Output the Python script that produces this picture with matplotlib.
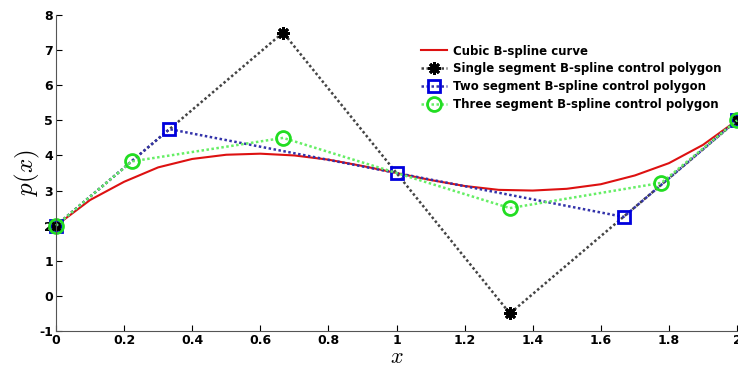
import numpy as np
import matplotlib.pyplot as plt

# red curve
curve_x = [0, 0.1, 0.2, 0.3, 0.4, 0.5, 0.6, 0.7, 0.8, 0.9, 1.0,
           1.1, 1.2, 1.3, 1.4, 1.5, 1.6, 1.7, 1.8, 1.9, 2.0]
curve_y = [2.0, 2.73, 3.25, 3.66, 3.9, 4.02, 4.05, 4.0, 3.88, 3.7, 3.5,
           3.3, 3.13, 3.02, 3.0, 3.05, 3.18, 3.43, 3.78, 4.3, 5.0]

# control polygons
single_x = [0, 0.667, 1.333, 2]
single_y = [2, 7.5, -0.5, 5]
two_x = [0, 0.333, 1, 1.667, 2]
two_y = [2, 4.75, 3.5, 2.25, 5]
three_x = [0, 0.222, 0.667, 1.333, 1.778, 2]
three_y = [2, 3.83, 4.5, 2.5, 3.22, 5]

plt.rcParams['mathtext.fontset'] = 'cm'
plt.rcParams['axes.unicode_minus'] = False

fig = plt.figure(figsize=(7.38, 3.66), dpi=100)
ax = fig.add_axes([56 / 738, 1 - 331 / 366, 681 / 738, 316 / 366])

dots = (0, (1, 1))
ax.plot(curve_x, curve_y, color='#dd1111', lw=1.5, label='Cubic B-spline curve',
        clip_on=False)
ax.plot(single_x, single_y, ls=dots, color='#444444', lw=1.8, marker=(8, 2, 0),
        ms=9, mew=2, mec='black', label='Single segment B-spline control polygon',
        clip_on=False)
ax.plot(two_x, two_y, ls=dots, color='#3333aa', lw=1.8, marker='s', ms=8, mew=2,
        mec='#0000dd', mfc='none', label='Two segment B-spline control polygon',
        clip_on=False)
ax.plot(three_x, three_y, ls=dots, color='#66ee66', lw=1.8, marker='o', ms=10, mew=2,
        mec='#22dd22', mfc='none', label='Three segment B-spline control polygon',
        clip_on=False)

ax.set_xlim(0, 2)
ax.set_ylim(-1, 8)
ax.set_xticks(np.arange(0, 2.01, 0.2))
ax.set_xticklabels(['0', '0.2', '0.4', '0.6', '0.8', '1', '1.2', '1.4', '1.6', '1.8', '2'])
ax.set_yticks(range(-1, 9))
ax.tick_params(direction='in', length=4, labelsize=9, top=False, right=False, pad=2)
for lab in ax.get_xticklabels() + ax.get_yticklabels():
    lab.set_fontweight('bold')
ax.spines['top'].set_visible(False)
ax.spines['right'].set_visible(False)
for s in ['left', 'bottom']:
    ax.spines[s].set_color('#555555')

ax.set_xlabel('$x$', fontsize=16, labelpad=0)
ax.set_ylabel('$p(x)$', fontsize=18, labelpad=-2)

leg = ax.legend(loc='upper left', bbox_to_anchor=(0.52, 0.94), frameon=False,
                prop={'weight': 'bold', 'size': 8.5}, handlelength=2.2,
                handletextpad=0.5, labelspacing=0.4)

plt.savefig('out.png', dpi=100)
